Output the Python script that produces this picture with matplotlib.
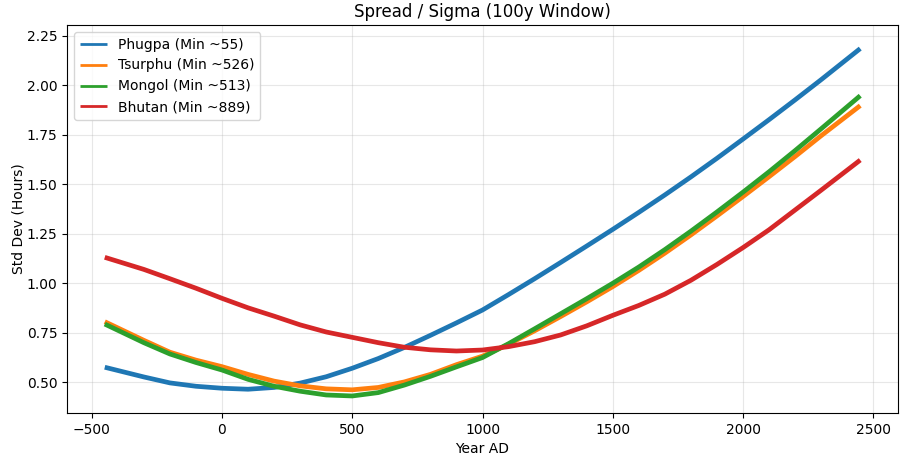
import matplotlib
matplotlib.use("Agg")
import matplotlib.pyplot as plt

years = [-450, -300, -200, -100, 0, 100, 200, 300, 400, 500, 600, 700, 800, 900,
         1000, 1100, 1200, 1300, 1400, 1500, 1600, 1700, 1800, 1900, 2000,
         2100, 2200, 2300, 2450]

phugpa = [0.576, 0.527, 0.497, 0.480, 0.470, 0.465, 0.474, 0.496, 0.528, 0.571,
          0.620, 0.676, 0.737, 0.800, 0.865, 0.943, 1.023, 1.105, 1.188, 1.272,
          1.358, 1.446, 1.537, 1.631, 1.728, 1.826, 1.926, 2.028, 2.185]

tsurphu = [0.806, 0.712, 0.652, 0.612, 0.579, 0.540, 0.506, 0.482, 0.467, 0.462,
           0.474, 0.502, 0.540, 0.589, 0.632, 0.692, 0.760, 0.832, 0.906, 0.983,
           1.065, 1.152, 1.244, 1.340, 1.438, 1.538, 1.640, 1.745, 1.897]

mongol = [0.794, 0.700, 0.643, 0.600, 0.562, 0.515, 0.480, 0.455, 0.436, 0.431,
          0.448, 0.486, 0.530, 0.578, 0.625, 0.695, 0.770, 0.846, 0.922, 1.000,
          1.082, 1.170, 1.263, 1.360, 1.460, 1.563, 1.670, 1.780, 1.947]

bhutan = [1.131, 1.070, 1.023, 0.975, 0.924, 0.876, 0.834, 0.790, 0.754, 0.727,
          0.700, 0.677, 0.664, 0.658, 0.663, 0.680, 0.705, 0.739, 0.785, 0.838,
          0.888, 0.945, 1.015, 1.095, 1.180, 1.270, 1.370, 1.470, 1.622]

series = [
    ("Phugpa (Min ~55)", phugpa, "#1f77b4"),
    ("Tsurphu (Min ~526)", tsurphu, "#ff7f0e"),
    ("Mongol (Min ~513)", mongol, "#2ca02c"),
    ("Bhutan (Min ~889)", bhutan, "#d62728"),
]

fig = plt.figure(figsize=(9, 4.57), dpi=100)
ax = fig.add_axes([67 / 900, 44 / 457, 831 / 900, 388 / 457])

for name, vals, col in series:
    ax.plot(years, vals, color=col, linewidth=3.4, label=name,
            solid_capstyle="butt", solid_joinstyle="round")

ax.set_ylim(0.345, 2.304)
ax.set_title("Spread / Sigma (100y Window)", fontsize=12)
ax.set_xlabel("Year AD")
ax.set_ylabel("Std Dev (Hours)", labelpad=1)
ax.grid(True, alpha=0.3)

leg = ax.legend(loc="upper left")
for ln in leg.get_lines():
    ln.set_linewidth(2)

fig.savefig("out.png", dpi=100)
